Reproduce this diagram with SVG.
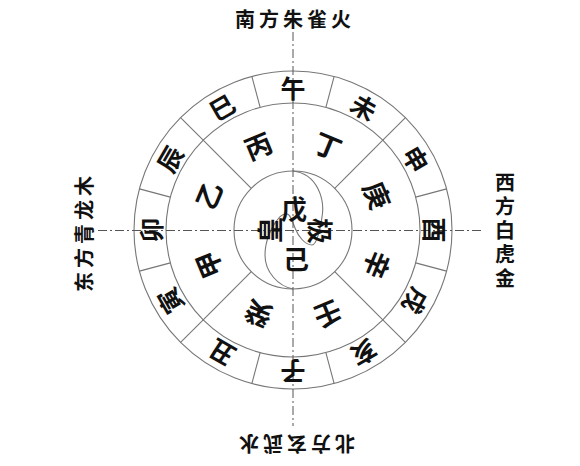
<svg xmlns="http://www.w3.org/2000/svg" width="580" height="466" viewBox="0 0 580 466">
<style>
.ring{fill:none;stroke:#777;stroke-width:1.1}
.div{stroke:#777;stroke-width:1.1}
.axis{stroke:#555;stroke-width:1;stroke-dasharray:9 3 2 3;fill:none}
.t{font-family:"Noto Sans CJK SC","Noto Sans CJK TC",sans-serif;font-weight:700;fill:#111;text-anchor:middle;dominant-baseline:central}
.br{font-size:25px}
.st{font-size:27px}
.ce{font-size:26px}
.lb{font-size:20px;letter-spacing:4px}
.lbv{font-size:20px;letter-spacing:4px;writing-mode:vertical-rl}
</style>
<rect width="580" height="466" fill="#fff"/>
<g id="rings">
<circle class="ring" cx="293" cy="230" r="159"/>
<circle class="ring" cx="293" cy="230" r="127"/>
<circle class="ring" cx="293" cy="230" r="59"/>
</g>
<g id="connectors">
<g id="branch-dividers">
<line class="div" x1="293" y1="103" x2="293" y2="71" transform="rotate(15 293 230)"/>
<line class="div" x1="293" y1="103" x2="293" y2="71" transform="rotate(45 293 230)"/>
<line class="div" x1="293" y1="103" x2="293" y2="71" transform="rotate(75 293 230)"/>
<line class="div" x1="293" y1="103" x2="293" y2="71" transform="rotate(105 293 230)"/>
<line class="div" x1="293" y1="103" x2="293" y2="71" transform="rotate(135 293 230)"/>
<line class="div" x1="293" y1="103" x2="293" y2="71" transform="rotate(165 293 230)"/>
<line class="div" x1="293" y1="103" x2="293" y2="71" transform="rotate(195 293 230)"/>
<line class="div" x1="293" y1="103" x2="293" y2="71" transform="rotate(225 293 230)"/>
<line class="div" x1="293" y1="103" x2="293" y2="71" transform="rotate(255 293 230)"/>
<line class="div" x1="293" y1="103" x2="293" y2="71" transform="rotate(285 293 230)"/>
<line class="div" x1="293" y1="103" x2="293" y2="71" transform="rotate(315 293 230)"/>
<line class="div" x1="293" y1="103" x2="293" y2="71" transform="rotate(345 293 230)"/>
</g>
<g id="stem-dividers">
<line class="div" x1="293" y1="171" x2="293" y2="103" transform="rotate(45 293 230)"/>
<line class="div" x1="293" y1="171" x2="293" y2="103" transform="rotate(135 293 230)"/>
<line class="div" x1="293" y1="171" x2="293" y2="103" transform="rotate(225 293 230)"/>
<line class="div" x1="293" y1="171" x2="293" y2="103" transform="rotate(315 293 230)"/>
</g>
<path id="taiji-curve" class="ring" d="M293,171 C318,174 325,200 322,217 C320,232 316,245 312,245 C305,245 298,236 295,228 C292,220 290,214 287,214 C283,214 280,216 278,219 C272,226 265,240 265,255 C265,272 278,286 293,289"/>
<line id="axis-v" class="axis" x1="293" y1="32" x2="293" y2="426"/>
<line id="axis-h" class="axis" x1="98" y1="230.5" x2="484" y2="230.5"/>
</g>
<g id="branches">
<text class="t br" x="293" y="87" transform="rotate(0 293 230)">午</text>
<text class="t br" x="293" y="87" transform="rotate(30 293 230)">未</text>
<text class="t br" x="293" y="87" transform="rotate(60 293 230)">申</text>
<text class="t br" x="293" y="87" transform="rotate(90 293 230)">酉</text>
<text class="t br" x="293" y="87" transform="rotate(120 293 230)">戌</text>
<text class="t br" x="293" y="87" transform="rotate(150 293 230)">亥</text>
<text class="t br" x="293" y="87" transform="rotate(180 293 230)">子</text>
<text class="t br" x="293" y="87" transform="rotate(210 293 230)">丑</text>
<text class="t br" x="293" y="87" transform="rotate(240 293 230)">寅</text>
<text class="t br" x="293" y="87" transform="rotate(270 293 230)">卯</text>
<text class="t br" x="293" y="87" transform="rotate(300 293 230)">辰</text>
<text class="t br" x="293" y="87" transform="rotate(330 293 230)">巳</text>
</g>
<g id="stems">
<text class="t st" x="293" y="138" transform="rotate(-22.5 293 230)">丙</text>
<text class="t st" x="293" y="138" transform="rotate(22.5 293 230)">丁</text>
<text class="t st" x="293" y="138" transform="rotate(67.5 293 230)">庚</text>
<text class="t st" x="293" y="138" transform="rotate(112.5 293 230)">辛</text>
<text class="t st" x="293" y="138" transform="rotate(157.5 293 230)">壬</text>
<text class="t st" x="293" y="138" transform="rotate(202.5 293 230)">癸</text>
<text class="t st" x="293" y="138" transform="rotate(247.5 293 230)">甲</text>
<text class="t st" x="293" y="138" transform="rotate(292.5 293 230)">乙</text>
</g>
<g id="centre">
<text class="t ce" x="294" y="207">戊</text>
<text class="t ce" x="296" y="257">己</text>
<text class="t ce" x="268" y="230" transform="rotate(-90 268 230)">皇</text>
<text class="t ce" x="321" y="231" transform="rotate(90 321 231)">极</text>
</g>
<g id="labels">
<text class="t lb" x="295" y="18">南方朱雀火</text>
<text class="t lb" x="83" y="232" transform="rotate(-90 83 232)">东方青龙木</text>
<text class="t lb" x="291" y="444" transform="rotate(180 293 444)">北方玄武水</text>
<text id="label-west" class="t lbv" x="505" y="232">西方白虎金</text>
</g>
</svg>
